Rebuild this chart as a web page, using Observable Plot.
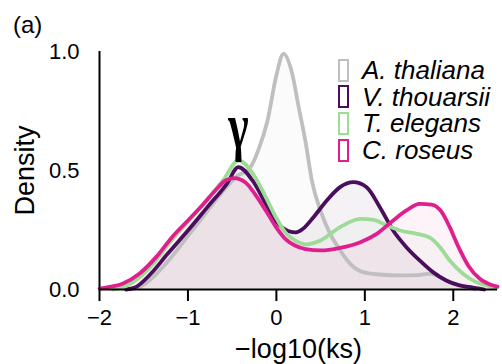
<!DOCTYPE html>
<html><head><meta charset="utf-8">
<script src="https://cdn.jsdelivr.net/npm/d3@7"></script>
<script src="https://cdn.jsdelivr.net/npm/@observablehq/plot@0.6"></script>
<style>
body{margin:0;background:#fff;}
#wrap{position:relative;width:502px;height:364px;font-family:"Liberation Sans",Arial,sans-serif;color:#000;}
#panel{position:absolute;left:13px;top:12px;font-size:24px;line-height:26px;}
#legend{position:absolute;left:338px;top:57px;}
.row{display:flex;align-items:center;height:26.6px;}
.sw{box-sizing:border-box;width:11px;height:23px;border:2px solid;background:#fff;margin-right:13px;}
.lab{font-style:italic;font-size:26px;line-height:26px;white-space:nowrap;}
</style></head><body><div id="wrap"><div id="panel">(a)</div></div>
<script>
const species = ["A. thaliana", "V. thouarsii", "T. elegans", "C. roseus"];
const colors = ["#bfbfbf", "#4a0f5c", "#9edb96", "#df1f8d"];

const thalianaX = [-1.65, -1.5, -1.4, -1.2, -1.0, -0.8, -0.6, -0.45, -0.3, -0.2, -0.1, 0.0, 0.08, 0.18, 0.25, 0.33, 0.4, 0.5, 0.6, 0.72, 0.83, 0.98, 1.17, 1.4, 1.6, 1.74, 1.85, 1.96, 2.1, 2.25];
const thalianaY = [0, 0.02, 0.05, 0.13, 0.225, 0.32, 0.415, 0.475, 0.51, 0.59, 0.71, 0.90, 0.99, 0.905, 0.77, 0.62, 0.46, 0.33, 0.24, 0.165, 0.11, 0.073, 0.063, 0.059, 0.06, 0.067, 0.052, 0.031, 0.015, 0];

const thouarsiiX = [-1.7, -1.6, -1.42, -1.23, -1.0, -0.78, -0.56, -0.43, -0.27, -0.12, 0.0, 0.14, 0.22, 0.3, 0.42, 0.57, 0.72, 0.87, 1.02, 1.17, 1.32, 1.47, 1.62, 1.77, 1.92, 2.07, 2.22, 2.35];
const thouarsiiY = [0, 0.008, 0.066, 0.15, 0.248, 0.346, 0.444, 0.514, 0.458, 0.36, 0.285, 0.245, 0.24, 0.255, 0.304, 0.374, 0.43, 0.451, 0.43, 0.346, 0.248, 0.178, 0.122, 0.073, 0.038, 0.017, 0.008, 0];

const elegansX = [-1.85, -1.7, -1.55, -1.4, -1.2, -1.0, -0.8, -0.6, -0.43, -0.24, -0.12, 0.0, 0.1, 0.21, 0.33, 0.5, 0.72, 0.95, 1.1, 1.25, 1.4, 1.59, 1.74, 1.85, 1.96, 2.11, 2.26, 2.4, 2.5];
const elegansY = [0, 0.015, 0.05, 0.105, 0.2, 0.285, 0.37, 0.46, 0.542, 0.472, 0.388, 0.30, 0.24, 0.206, 0.19, 0.206, 0.262, 0.297, 0.293, 0.269, 0.248, 0.234, 0.217, 0.178, 0.122, 0.066, 0.031, 0.014, 0.008];

const roseusX = [-2.0, -1.9, -1.74, -1.55, -1.36, -1.18, -1.0, -0.84, -0.69, -0.575, -0.48, -0.35, -0.24, -0.12, 0.0, 0.1, 0.21, 0.33, 0.5, 0.72, 0.95, 1.135, 1.32, 1.47, 1.62, 1.755, 1.87, 1.96, 2.06, 2.17, 2.3, 2.45, 2.5];
const roseusY = [0.004, 0.01, 0.024, 0.066, 0.136, 0.22, 0.29, 0.353, 0.416, 0.458, 0.468, 0.45, 0.40, 0.332, 0.26, 0.213, 0.185, 0.17, 0.164, 0.175, 0.199, 0.234, 0.29, 0.332, 0.36, 0.357, 0.325, 0.262, 0.178, 0.10, 0.045, 0.017, 0.012];

const xTicks = [-2, -1, 0, 1, 2];
const yTicks = [0, 0.5, 1.0];
const xLabel = "\u2212log10(ks)";
const yLabel = "Density";
const gammaX = [-0.43];
const gammaY = [0.685];
const gammaText = ["\u03b3"];

const series = [[thalianaX, thalianaY], [thouarsiiX, thouarsiiY], [elegansX, elegansY], [roseusX, roseusY]];
const rows = series.flatMap(([xs, ys], i) => xs.map((x, j) => ({species: species[i], x, y: ys[j]})));

const chart = Plot.plot({
  width: 502, height: 364,
  marginLeft: 99, marginRight: 5, marginTop: 51, marginBottom: 75,
  x: {domain: [-2, 2.5]},
  y: {domain: [0, 1]},
  color: {domain: species, range: colors},
  style: {fontFamily: "Liberation Sans, Arial, sans-serif", fontSize: "22px", color: "#000", background: "transparent", overflow: "visible"},
  marks: [
    Plot.area(rows, {x1: "x", y1: 0, y2: "y", z: "species", fill: "species", fillOpacity: 0.055, curve: "monotone-x"}),
    Plot.line(rows, {x: "x", y: "y", z: "species", stroke: "species", strokeWidth: 3.8, curve: "monotone-x"}),
    Plot.ruleY([0], {stroke: "#000", strokeWidth: 2}),
    Plot.ruleX([-2], {y1: 0, y2: 1, stroke: "#000", strokeWidth: 2}),
    Plot.axisX({ticks: xTicks, tickSize: 12, tickPadding: 8, strokeWidth: 2, tickFormat: d => (d < 0 ? "\u2212" + (-d) : String(d)), label: xLabel, labelAnchor: "center", labelArrow: "none", labelOffset: 68, fontSize: 22}),
    Plot.axisY({ticks: yTicks, tickSize: 0, tickPadding: 20, tickFormat: d3.format(".1f"), label: yLabel, labelAnchor: "center", labelArrow: "none", labelOffset: 85, fontSize: 22}),
    Plot.text(gammaText, {x: gammaX, y: gammaY, text: d => d, fontFamily: "Liberation Serif, serif", fontWeight: "bold", fontSize: 66, lineAnchor: "middle"})
  ]
});
chart.querySelectorAll("g[aria-label='x-axis label'] text, g[aria-label='y-axis label'] text").forEach(t => t.setAttribute("font-size", "27"));
// narrow the gamma glyph horizontally
chart.querySelectorAll("g[aria-label='text'] text").forEach(t => {
  let tr = t.getAttribute("transform");
  if (!tr) {
    const x = t.getAttribute("x") || 0, y = t.getAttribute("y") || 0;
    t.removeAttribute("x"); t.removeAttribute("y");
    tr = `translate(${x},${y})`;
  }
  t.setAttribute("transform", tr + " scale(0.66 1)");
});
chart.style.position = "absolute";
chart.style.left = "0"; chart.style.top = "0";
const wrap = document.getElementById("wrap");
wrap.insertBefore(chart, wrap.firstChild);

const legend = document.createElement("div");
legend.id = "legend";
species.forEach((s, i) => {
  const r = document.createElement("div"); r.className = "row";
  const sw = document.createElement("div"); sw.className = "sw"; sw.style.borderColor = colors[i];
  const lb = document.createElement("div"); lb.className = "lab"; lb.textContent = s;
  r.appendChild(sw); r.appendChild(lb); legend.appendChild(r);
});
wrap.appendChild(legend);
</script></body></html>
